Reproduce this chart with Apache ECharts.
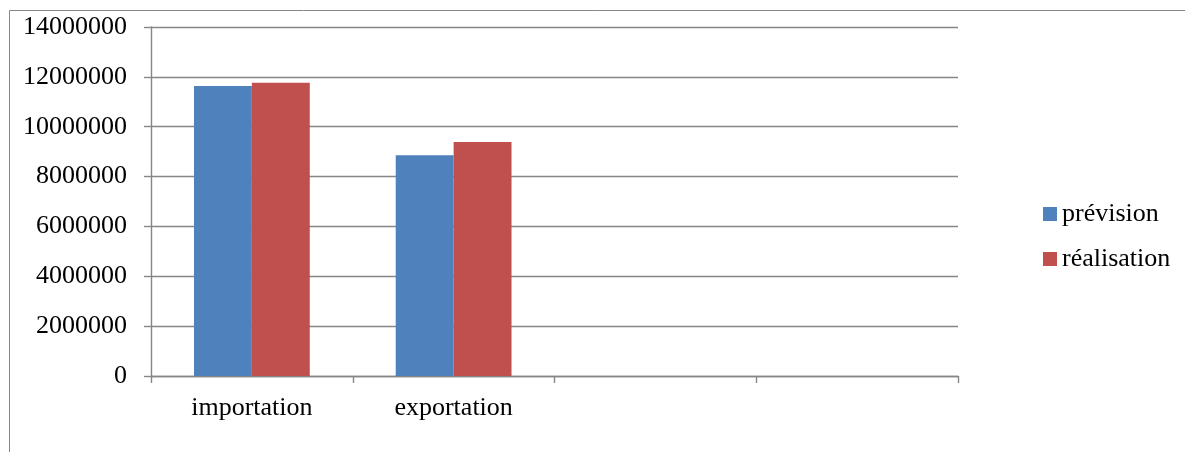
<!DOCTYPE html>
<html>
<head>
<meta charset="utf-8">
<script src="https://cdn.jsdelivr.net/npm/echarts@6/dist/echarts.min.js"></script>
<style>
  html, body { margin: 0; padding: 0; background: #fff; }
  #chart { width: 1185px; height: 452px; }
</style>
</head>
<body>
<div id="chart"></div>
<script>
// Trade flows: forecast vs. realised
const categories = ['importation', 'exportation', '', ''];
const seriesNames = ['prévision', 'réalisation'];
const prevision = [11630000, 8860000, null, null];
const realisation = [11760000, 9390000, null, null];
const yMin = 0, yMax = 14000000, yStep = 2000000;

const FONT = '"Liberation Serif", "Times New Roman", serif';
const GRAY = '#868686';

const chart = echarts.init(document.getElementById('chart'), null, { renderer: 'canvas' });
chart.setOption({
  animation: false,
  backgroundColor: '#fff',
  color: ['#4F81BD', '#C0504D'],
  graphic: [{
    type: 'rect',
    shape: { x: 9.5, y: 10.5, width: 1300, height: 600 },
    style: { fill: 'none', stroke: GRAY, lineWidth: 1 },
    silent: true
  }],
  grid: { left: 151, right: 227, top: 27, bottom: 76, containLabel: false },
  legend: {
    orient: 'vertical',
    left: 1043,
    top: 201,
    padding: 0,
    itemWidth: 14,
    itemHeight: 14,
    itemGap: 19,
    icon: 'rect',
    textStyle: { fontFamily: FONT, fontSize: 26, color: '#000' },
    data: seriesNames
  },
  xAxis: {
    type: 'category',
    data: categories,
    axisLine: { lineStyle: { color: GRAY, width: 1.4 } },
    axisTick: { show: true, length: 7, alignWithLabel: false, lineStyle: { color: GRAY, width: 1.4 } },
    axisLabel: { fontFamily: FONT, fontSize: 26, color: '#000', margin: 19, interval: 0 },
    splitLine: { show: false }
  },
  yAxis: {
    type: 'value',
    min: yMin,
    max: yMax,
    interval: yStep,
    axisLine: { show: true, lineStyle: { color: GRAY, width: 1.4 } },
    axisTick: { show: true, length: 7, lineStyle: { color: GRAY, width: 1.4 } },
    axisLabel: {
      fontFamily: FONT, fontSize: 26, color: '#000', margin: 24,
      formatter: v => String(v)
    },
    splitLine: { show: true, lineStyle: { color: GRAY, width: 1.4 } }
  },
  series: [
    { name: seriesNames[0], type: 'bar', data: prevision, barGap: '0%', barCategoryGap: '42.6%' },
    { name: seriesNames[1], type: 'bar', data: realisation, barGap: '0%', barCategoryGap: '42.6%' }
  ]
});
</script>
</body>
</html>
